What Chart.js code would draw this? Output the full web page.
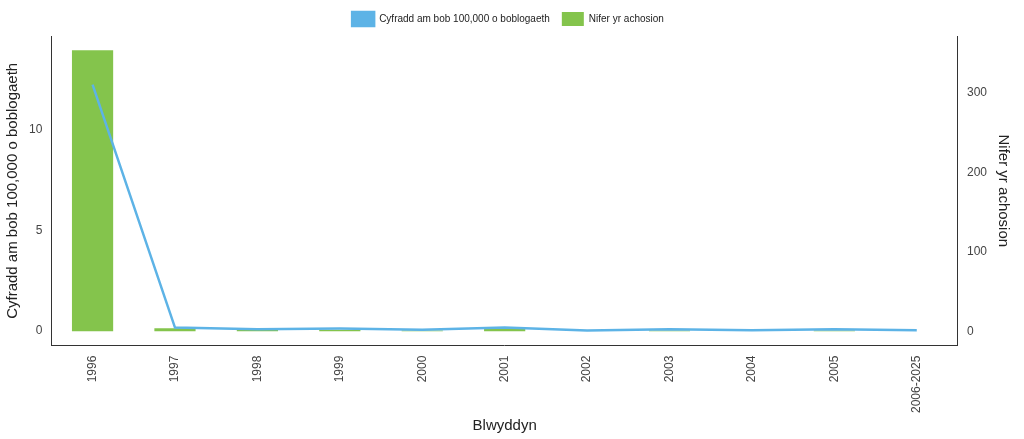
<!DOCTYPE html><html><head><meta charset="utf-8"><script src="https://cdn.jsdelivr.net/npm/chart.js@4"></script>
<style>body{margin:0;background:#fff}#w{width:1024px;height:439px}</style></head><body><div id="w"><canvas id="c"></canvas></div>
<script>
const categories=["1996","1997","1998","1999","2000","2001","2002","2003","2004","2005","2006-2025"];
const rateValues=[12.27,0.15,0.07,0.1,0.04,0.15,0.0,0.07,0.02,0.07,0.02];
const caseValues=[354,4,2,2,1,3,0,1,0,1,0];
const rateTicks=[0,5,10];
const caseTicks=[0,100,200,300];
Chart.defaults.font.family="Liberation Sans, Arial";
new Chart(document.getElementById('c'),{data:{labels:categories,datasets:[
{type:'line',label:'Cyfradd am bob 100,000 o boblogaeth',data:rateValues,borderColor:'#5DB3E6',backgroundColor:'#5DB3E6',borderWidth:2.5,pointRadius:0,yAxisID:'y',order:0},
{type:'bar',label:'Nifer yr achosion',data:caseValues,backgroundColor:'#84C44C',yAxisID:'y1',barPercentage:0.5,categoryPercentage:1,order:1}]},
options:{responsive:true,maintainAspectRatio:false,animation:false,
layout:{padding:{left:0,right:8,top:0,bottom:0}},
plugins:{legend:{position:'top',labels:{color:'#222',font:{size:10},boxWidth:22,boxHeight:14,padding:12}},tooltip:{enabled:false}},
scales:{x:{offset:true,grid:{display:false,drawTicks:true,tickLength:8,tickColor:'#333'},border:{color:'#333'},ticks:{color:'#444',font:{size:12},maxRotation:90,minRotation:90,padding:2},title:{display:true,text:'Blwyddyn',color:'#222',font:{size:15},padding:{top:2,bottom:4}}},
y:{position:'left',min:-0.75,max:14.7,grid:{display:false,tickLength:6,tickColor:'#333'},border:{color:'#333'},afterBuildTicks:a=>{a.ticks=rateTicks.map(v=>({value:v}));},ticks:{color:'#444',font:{size:12}},title:{display:true,text:'Cyfradd am bob 100,000 o boblogaeth',color:'#222',font:{size:15}}},
y1:{position:'right',min:-18,max:372,grid:{display:false,tickLength:6,tickColor:'#333'},border:{color:'#333'},afterBuildTicks:a=>{a.ticks=caseTicks.map(v=>({value:v}));},ticks:{color:'#444',font:{size:12}},title:{display:true,text:'Nifer yr achosion',color:'#222',font:{size:15}}}}}});
</script></body></html>
